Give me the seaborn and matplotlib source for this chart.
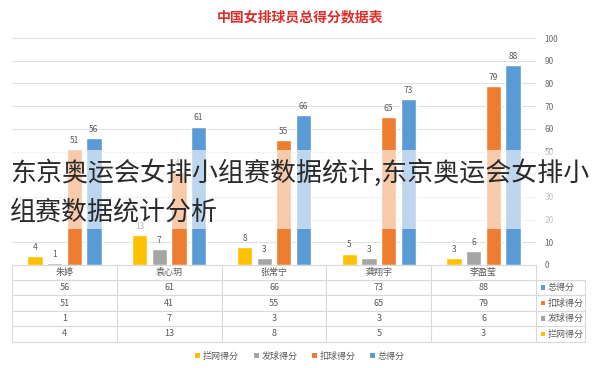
import matplotlib
matplotlib.use("Agg")
import matplotlib.pyplot as plt
import matplotlib.transforms as mtransforms
from matplotlib.patches import Rectangle, Patch
from matplotlib.lines import Line2D
import seaborn as sns
import pandas as pd

# ---- data (order as shown left to right) ----
players = ["朱婷", "袁心玥", "张常宁", "龚翔宇", "李盈莹"]
total_pts = [56, 61, 66, 73, 88]
attack_pts = [51, 41, 55, 65, 79]
serve_pts = [1, 7, 3, 3, 6]
block_pts = [4, 13, 8, 5, 3]
series_names = ["拦网得分", "发球得分", "扣球得分", "总得分"]
series_values = [block_pts, serve_pts, attack_pts, total_pts]
table_rows = ["总得分", "扣球得分", "发球得分", "拦网得分"]
table_values = [total_pts, attack_pts, serve_pts, block_pts]
colors = {"总得分": "#5B9BD5", "扣球得分": "#ED7D31", "发球得分": "#A5A5A5", "拦网得分": "#FFC000"}
title = "中国女排球员总得分数据表"
overlay_1 = "东京奥运会女排小组赛数据统计,东京奥运会女排小组赛数据统计分析"
yticks = [0, 10, 20, 30, 40, 50, 60, 70, 80, 90, 100]

rows = []
for s, vals in zip(series_names, series_values):
    for p, v in zip(players, vals):
        rows.append({"player": p, "series": s, "value": v})
df = pd.DataFrame(rows)

sns.set_style("white")
plt.rcParams["font.family"] = ["Noto Sans CJK SC", "DejaVu Sans"]

W, H = 600, 368
fig = plt.figure(figsize=(6, 3.68), dpi=100)
ax = fig.add_axes([12 / W, 1 - 265 / H, (536 - 12) / W, (265 - 38) / H])

sns.barplot(data=df, x="player", y="value", hue="series", order=players,
            hue_order=series_names, palette=colors, width=0.75, gap=0.22,
            legend=False, ax=ax, saturation=1)

for cont in ax.containers:
    ax.bar_label(cont, fmt="%d", padding=3, fontsize=6, color="#595959")

ax.set_ylim(0, 100)
ax.set_xlim(-0.5, len(players) - 0.5)
ax.set_yticks(yticks)
ax.yaxis.tick_right()
ax.tick_params(axis="y", length=0, pad=6, labelsize=6, labelcolor="#6a6a6a")
ax.set_xticks([])
ax.set_xlabel("")
ax.set_ylabel("")
ax.yaxis.grid(True, color="#e2e2e2", lw=0.8)
ax.set_axisbelow(True)
for sp in ax.spines.values():
    sp.set_visible(False)

# ---- data table below the chart ----
def fy(y):
    return 1 - y / H

blend = mtransforms.blended_transform_factory(ax.transData, fig.transFigure)
gc = "#d9d9d9"
row_lines = [265, 280, 295, 311, 326, 342]
x_right_px = 585
for i, yl in enumerate(row_lines):
    if i == 0:
        fig.add_artist(Line2D([-0.5, len(players) - 0.5], [fy(yl), fy(yl)], transform=blend, color=gc, lw=0.8))
    else:
        fig.add_artist(Line2D([12 / W, x_right_px / W], [fy(yl), fy(yl)], transform=fig.transFigure, color=gc, lw=0.8))
for i in range(len(players) + 1):
    fig.add_artist(Line2D([i - 0.5, i - 0.5], [fy(265), fy(342)], transform=blend, color=gc, lw=0.8))
fig.add_artist(Line2D([x_right_px / W, x_right_px / W], [fy(280), fy(342)], transform=fig.transFigure, color=gc, lw=0.8))

for i, p in enumerate(players):
    fig.text(i, fy(272.5), p, transform=blend, ha="center", va="center", fontsize=6.5, color="#595959")

for r, (name, vals) in enumerate(zip(table_rows, table_values)):
    yc = (row_lines[r + 1] + row_lines[r + 2]) / 2
    for i, v in enumerate(vals):
        fig.text(i, fy(yc), str(v), transform=blend, ha="center", va="center", fontsize=6.5, color="#595959")
    fig.add_artist(Rectangle((541 / W, fy(yc) - 2.2 / H), 4.4 / W, 4.4 / H, transform=fig.transFigure,
                             facecolor=colors[name], edgecolor="none"))
    fig.text(548 / W, fy(yc), name, ha="left", va="center", fontsize=6.5, color="#595959")

# ---- legend ----
handles = [Patch(facecolor=colors[s], edgecolor="none") for s in series_names]
fig.legend(handles, series_names, loc="center", bbox_to_anchor=(300 / W, fy(356)), ncol=4,
           frameon=False, fontsize=6.5, labelcolor="#595959", handlelength=0.55, handleheight=0.55,
           handletextpad=0.3, columnspacing=1.6)

# ---- title ----
fig.text(300 / W, fy(17), title, ha="center", va="center", fontsize=10, fontweight="bold", color="#d9302c")

# ---- pale band with overlay text ----
fig.add_artist(Rectangle((0, fy(229)), 1, (229 - 150) / H, transform=fig.transFigure,
                         facecolor="white", alpha=0.6, edgecolor="none", zorder=5))
fig.text(10 / W, fy(173), overlay_1[:23], ha="left", va="center", fontsize=18.7,
         fontweight="light", color="#2a2a2a", zorder=6)
fig.text(10 / W, fy(212), overlay_1[23:], ha="left", va="center", fontsize=18.7,
         fontweight="light", color="#2a2a2a", zorder=6)

fig.savefig("out.png", dpi=100)
